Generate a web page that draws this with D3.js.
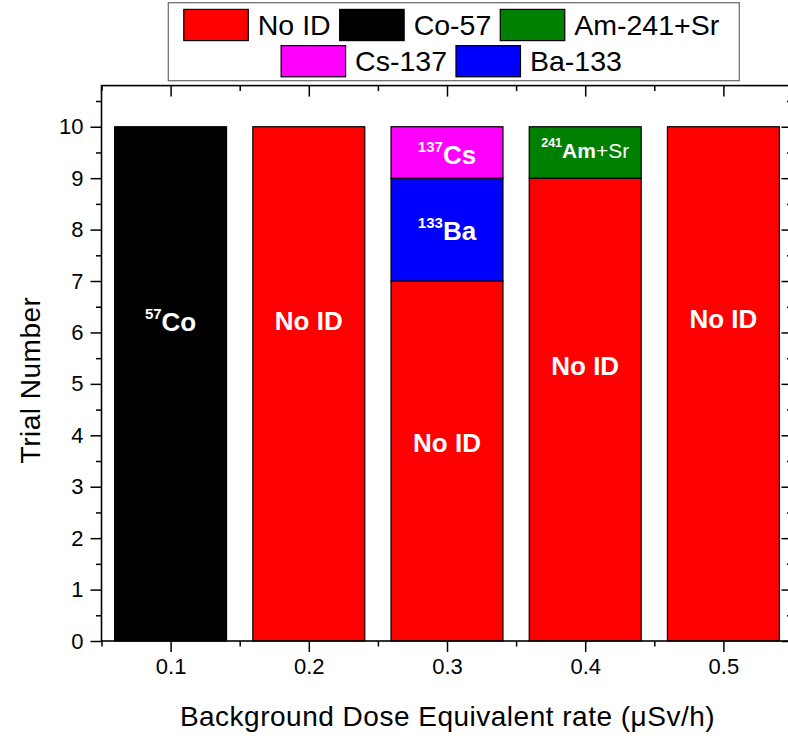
<!DOCTYPE html>
<html>
<head>
<meta charset="utf-8">
<script src="https://cdn.jsdelivr.net/npm/d3@7"></script>
<style>
  html, body { margin: 0; padding: 0; background: #fff; }
  svg { display: block; font-family: "Liberation Sans", Arial, sans-serif; }
</style>
</head>
<body>
<svg id="chart" width="788" height="740"></svg>
<script>
// ---- data ----
const categories = [0.1, 0.2, 0.3, 0.4, 0.5];
const seriesKeys = ["noId", "co57", "ba133", "cs137", "am241"];
const seriesNames = { noId: "No ID", co57: "Co-57", am241: "Am-241+Sr", cs137: "Cs-137", ba133: "Ba-133" };
const noId  = [0, 10, 7, 9, 10];
const co57  = [10, 0, 0, 0, 0];
const ba133 = [0, 0, 2, 0, 0];
const cs137 = [0, 0, 1, 0, 0];
const am241 = [0, 0, 0, 1, 0];
const yTicks = [0, 1, 2, 3, 4, 5, 6, 7, 8, 9, 10];
const xTicks = [0.1, 0.2, 0.3, 0.4, 0.5];
const legendRows = [["noId", "co57", "am241"], ["cs137", "ba133"]];
// in-bar labels: [category, baseline value, superscript, main bold, trailing normal]
const barLabels = [
  [0.1, 6.03, "57", "Co", ""],
  [0.2, 6.05, "", "No ID", ""],
  [0.3, 3.67, "", "No ID", ""],
  [0.3, 7.80, "133", "Ba", ""],
  [0.3, 9.27, "137", "Cs", ""],
  [0.4, 5.17, "", "No ID", ""],
  [0.4, 9.40, "241", "Am", "+Sr"],
  [0.5, 6.09, "", "No ID", ""]
];

const colors = { noId: "#ff0000", co57: "#000000", am241: "#008000", cs137: "#ff00ff", ba133: "#0000ff" };
const seriesData = { noId, co57, ba133, cs137, am241 };

const svg = d3.select("#chart");
const x = d3.scaleLinear().domain([0.05, 0.55]).range([101.5, 792.5]);
const y = d3.scaleLinear().domain([0, 10.8]).range([641, 85.6]);
const barW = x(0.081) - x(0);

const table = categories.map((c, i) => {
  const o = { cat: c };
  seriesKeys.forEach(k => o[k] = seriesData[k][i]);
  return o;
});
const stacked = d3.stack().keys(seriesKeys)(table);

// bars
const g = svg.append("g");
stacked.forEach(layer => {
  g.selectAll(null)
    .data(layer.filter(d => d[1] - d[0] > 0))
    .enter().append("rect")
    .attr("x", d => x(d.data.cat) - barW / 2)
    .attr("width", barW)
    .attr("y", d => y(d[1]))
    .attr("height", d => y(d[0]) - y(d[1]))
    .attr("fill", colors[layer.key])
    .attr("stroke", "#000")
    .attr("stroke-width", 1.2);
});

// bar labels
barLabels.forEach(([cat, val, sup, main, rest]) => {
  const small = main === "Am";
  const t = svg.append("text")
    .attr("x", x(cat)).attr("y", y(val))
    .attr("text-anchor", "middle")
    .attr("fill", "#fff")
    .attr("font-weight", "bold")
    .attr("font-size", small ? 21 : 26);
  const raise = small ? 10.5 : 12;
  if (sup) {
    t.append("tspan").attr("font-size", small ? 12.5 : 15).attr("dy", -raise).text(sup);
    t.append("tspan").attr("dy", raise).text(main);
  } else {
    t.append("tspan").text(main);
  }
  if (rest) t.append("tspan").attr("font-weight", "normal").text(rest);
});

// axes
const axisG = svg.append("g").attr("font-size", 22);
const axBottom = d3.axisBottom(x).tickValues(xTicks).tickSize(11).tickPadding(6).tickFormat(d3.format(".1f"));
const axBottomMinor = d3.axisBottom(x).tickValues(d3.range(0.05, 0.56, 0.1)).tickSize(5.5).tickFormat("");
const axLeft = d3.axisLeft(y).tickValues(yTicks).tickSize(11).tickPadding(7).tickFormat(d3.format("d"));
const axLeftMinor = d3.axisLeft(y).tickValues(d3.range(0.5, 10.8, 1)).tickSize(5.5).tickFormat("");
const axTop = d3.axisBottom(x).tickValues(xTicks).tickSize(11).tickFormat("");
const axTopMinor = d3.axisBottom(x).tickValues(d3.range(0.05, 0.56, 0.1)).tickSize(5.5).tickFormat("");
const axRight = d3.axisLeft(y).tickValues(yTicks).tickSize(11).tickFormat("");
const axRightMinor = d3.axisLeft(y).tickValues(d3.range(0.5, 10.8, 1)).tickSize(5.5).tickFormat("");

function styleAxis(sel) {
  sel.select(".domain").remove();
  sel.selectAll("line").attr("stroke", "#000").attr("stroke-width", 1.5);
  sel.selectAll("text").attr("fill", "#000").attr("font-family", "'Liberation Sans', Arial, sans-serif").attr("font-size", 22);
}
axisG.append("g").attr("transform", `translate(0,${y(0)})`).call(axBottom).call(styleAxis);
axisG.append("g").attr("transform", `translate(0,${y(0)})`).call(axBottomMinor).call(styleAxis);
axisG.append("g").attr("transform", `translate(${x(0.05)},0)`).call(axLeft).call(styleAxis);
axisG.append("g").attr("transform", `translate(${x(0.05)},0)`).call(axLeftMinor).call(styleAxis);
axisG.append("g").attr("transform", `translate(0,${y(10.8)})`).call(axTop).call(styleAxis);
axisG.append("g").attr("transform", `translate(0,${y(10.8)})`).call(axTopMinor).call(styleAxis);
axisG.append("g").attr("transform", `translate(${x(0.55)},0)`).call(axRight).call(styleAxis);
axisG.append("g").attr("transform", `translate(${x(0.55)},0)`).call(axRightMinor).call(styleAxis);

// frame
svg.append("rect")
  .attr("x", x(0.05)).attr("y", y(10.8))
  .attr("width", x(0.55) - x(0.05)).attr("height", y(0) - y(10.8))
  .attr("fill", "none").attr("stroke", "#000").attr("stroke-width", 1.6);

// axis titles
svg.append("text")
  .attr("x", 447.5).attr("y", 726)
  .attr("text-anchor", "middle")
  .attr("font-size", 28).attr("letter-spacing", 0.5)
  .text("Background Dose Equivalent rate (μSv/h)");
svg.append("text")
  .attr("transform", "translate(40,380) rotate(-90)")
  .attr("text-anchor", "middle")
  .attr("font-size", 28).attr("letter-spacing", 0.5)
  .text("Trial Number");

// legend
const lg = svg.append("g");
lg.append("rect")
  .attr("x", 168.3).attr("y", 2.7).attr("width", 571).attr("height", 78)
  .attr("fill", "#fff").attr("stroke", "#666").attr("stroke-width", 1.2);
const swW = 64.5, swH = 31.2, gapText = 9.5, gapItem = 9;
const rowCenters = [25, 61.2];
legendRows.forEach((row, ri) => {
  const rg = lg.append("g");
  let cx = 0;
  row.forEach((k, i) => {
    rg.append("rect")
      .attr("x", cx).attr("y", rowCenters[ri] - swH / 2)
      .attr("width", swW).attr("height", swH)
      .attr("fill", colors[k]).attr("stroke", "#000").attr("stroke-width", 1.2);
    const t = rg.append("text")
      .attr("x", cx + swW + gapText).attr("y", rowCenters[ri])
      .attr("dy", "0.35em")
      .attr("font-size", 28.5)
      .text(seriesNames[k]);
    cx += swW + gapText + t.node().getComputedTextLength() + (i < row.length - 1 ? gapItem : 0);
  });
  rg.attr("transform", `translate(${451.5 - cx / 2},0)`);
});
</script>
</body>
</html>
